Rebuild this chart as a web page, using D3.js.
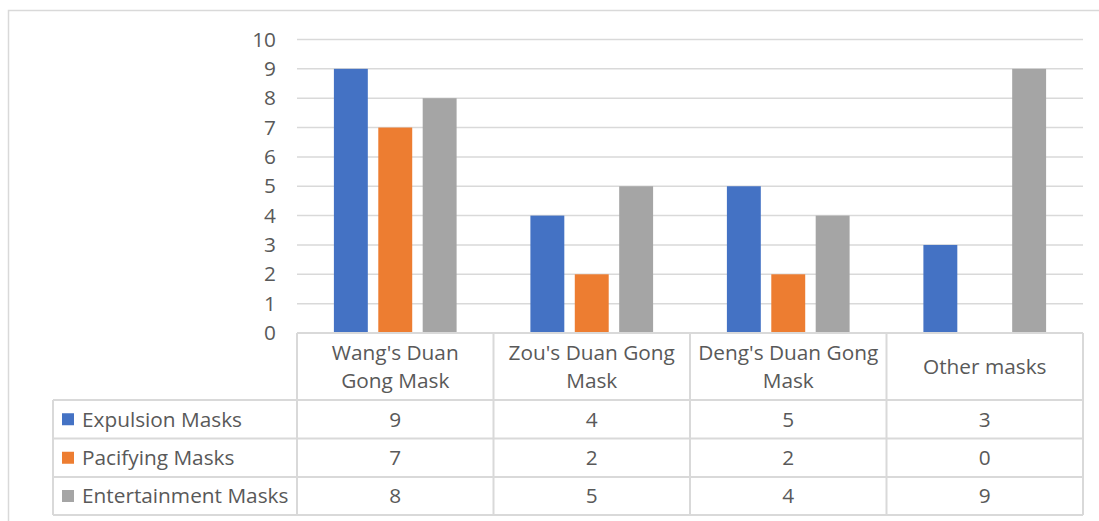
<!DOCTYPE html>
<html><head><meta charset="utf-8">
<script src="https://cdn.jsdelivr.net/npm/d3@7"></script>
<style>body{margin:0;background:#fff;}svg{display:block;}</style>
</head><body><svg id="c" width="1099" height="521"></svg>
<script>
const categories = [["Wang's Duan","Gong Mask"],["Zou's Duan Gong","Mask"],["Deng's Duan Gong","Mask"],["Other masks"]];
const seriesNames = ["Expulsion Masks","Pacifying Masks","Entertainment Masks"];
const expulsion = [9,4,5,3];
const pacifying = [7,2,2,0];
const entertainment = [8,5,4,9];
const yTicks = [0,1,2,3,4,5,6,7,8,9,10];
const colors = ["#4472c4","#ed7d31","#a5a5a5"];
const series = [expulsion, pacifying, entertainment];

(function(){
const svg = d3.select("#c");
const font = "'Open Sans', sans-serif";
const fs = 20.8;
const textColor = "#595959";
const lineColor = "#d9d9d9";

// outer border
svg.append("path").attr("d","M8.5,521 V10.5 H1099").attr("fill","none").attr("stroke",lineColor).attr("stroke-width",1.5);

const pLeft = 297, pRight = 1083, pTop = 39.5, pBottom = 333;
const catIdx = d3.range(categories.length);
const x0 = d3.scaleBand().domain(catIdx).range([pLeft,pRight]).paddingInner(0).paddingOuter(0);
const x1 = d3.scaleBand().domain(d3.range(series.length)).range([0,x0.bandwidth()]).paddingInner(0.236).paddingOuter(0.831);
const y = d3.scaleLinear().domain([0,10]).range([pBottom,pTop]);

// gridlines
svg.append("g").selectAll("line").data(yTicks.filter(d=>d>0)).join("line")
  .attr("x1",pLeft).attr("x2",pRight).attr("y1",d=>y(d)).attr("y2",d=>y(d))
  .attr("stroke",lineColor).attr("stroke-width",1.5);

// y axis labels
const yAxis = d3.axisLeft(y).tickValues(yTicks).tickSize(0).tickPadding(0);
const ga = svg.append("g").attr("transform","translate(276,0)").call(yAxis);
ga.select(".domain").remove();
ga.selectAll("text").attr("font-family",font).attr("font-size",fs).attr("fill",textColor);

// bars
series.forEach((vals,si)=>{
  svg.append("g").selectAll("rect").data(vals).join("rect")
    .attr("x",(d,i)=>x0(i)+x1(si)).attr("width",x1.bandwidth())
    .attr("y",d=>y(d)).attr("height",d=>y(0)-y(d))
    .attr("fill",colors[si]);
});

// data table
const rowY = [333,400,438.5,477,515];
const tableLeft = 53;
const tg = svg.append("g").attr("stroke",lineColor).attr("stroke-width",2).attr("fill","none");
tg.append("line").attr("x1",pLeft).attr("x2",pRight).attr("y1",rowY[0]).attr("y2",rowY[0]);
for(let r=1;r<rowY.length;r++){
  tg.append("line").attr("x1",tableLeft).attr("x2",pRight).attr("y1",rowY[r]).attr("y2",rowY[r]);
}
const colEdges = catIdx.map(i=>x0(i)).concat([pRight]);
colEdges.forEach(xv=>{
  tg.append("line").attr("x1",xv).attr("x2",xv).attr("y1",rowY[0]).attr("y2",rowY[4]);
});
tg.append("line").attr("x1",tableLeft).attr("x2",tableLeft).attr("y1",rowY[1]).attr("y2",rowY[4]);

// header text
categories.forEach((lines,i)=>{
  const cx = x0(i)+x0.bandwidth()/2;
  const mid = (rowY[0]+rowY[1])/2;
  const lh = 28;
  const t = svg.append("text").attr("x",cx).attr("text-anchor","middle")
    .attr("font-family",font).attr("font-size",fs).attr("fill",textColor);
  lines.forEach((ln,k)=>{
    t.append("tspan").attr("x",cx).attr("y",mid + (k-(lines.length-1)/2)*lh).attr("dy","0.35em").text(ln);
  });
});

// rows
series.forEach((vals,si)=>{
  const cy = (rowY[si+1]+rowY[si+2])/2;
  svg.append("rect").attr("x",62).attr("y",cy-6).attr("width",12).attr("height",12).attr("fill",colors[si]);
  svg.append("text").attr("x",82).attr("y",cy).attr("dy","0.35em")
    .attr("font-family",font).attr("font-size",fs).attr("fill",textColor).text(seriesNames[si]);
  svg.append("g").selectAll("text").data(vals).join("text")
    .attr("x",(d,i)=>x0(i)+x0.bandwidth()/2).attr("y",cy).attr("dy","0.35em")
    .attr("text-anchor","middle").attr("font-family",font).attr("font-size",fs).attr("fill",textColor)
    .text(d=>d);
});
})();
</script></body></html>
